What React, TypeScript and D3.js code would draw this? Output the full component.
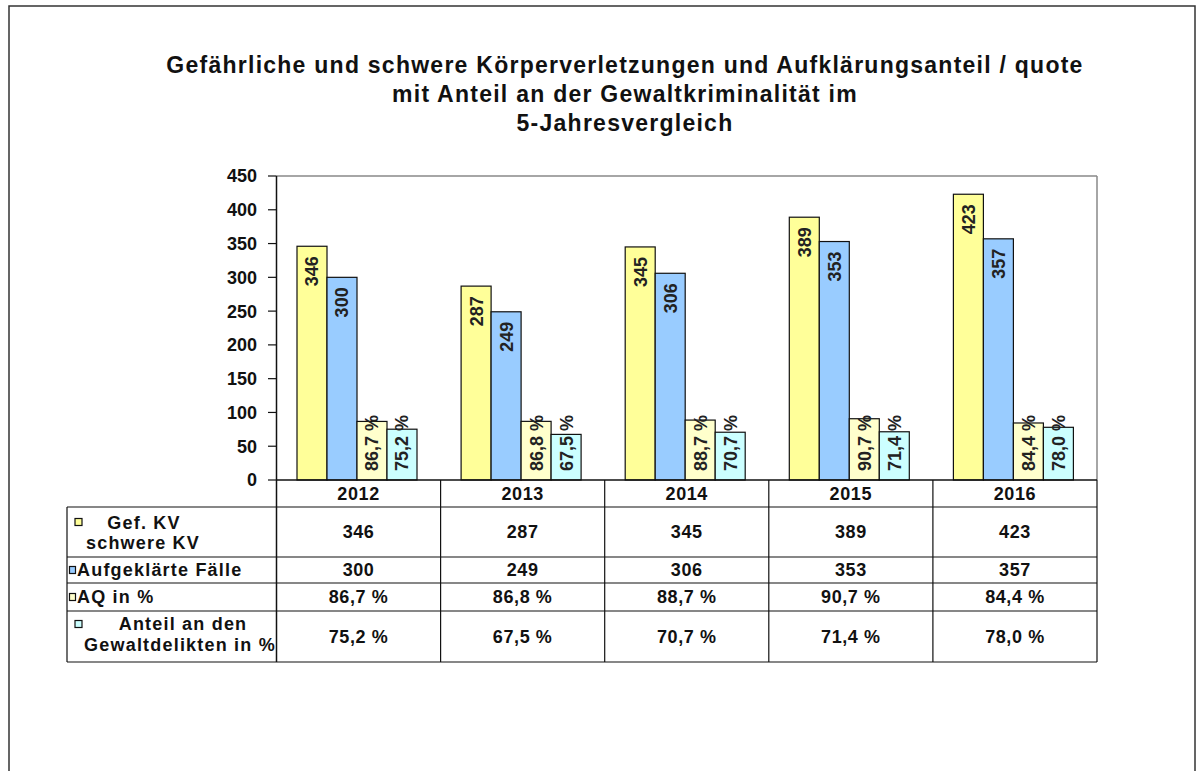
import * as d3 from 'd3';

const years = ['2012', '2013', '2014', '2015', '2016'];
const gefKV = [346, 287, 345, 389, 423];
const aufgeklaert = [300, 249, 306, 353, 357];
const aqProzent = [86.7, 86.8, 88.7, 90.7, 84.4];
const anteilGewalt = [75.2, 67.5, 70.7, 71.4, 78.0];
const yTicks = [0, 50, 100, 150, 200, 250, 300, 350, 400, 450];

const titleLines = [
  'Gefährliche und schwere Körperverletzungen und Aufklärungsanteil / quote',
  'mit Anteil an der Gewaltkriminalität im',
  '5-Jahresvergleich',
];

const series = [
  { key: 'gef', values: gefKV, color: '#FFFF99', pct: false },
  { key: 'aufg', values: aufgeklaert, color: '#99CCFF', pct: false },
  { key: 'aq', values: aqProzent, color: '#FFFFCC', pct: true },
  { key: 'anteil', values: anteilGewalt, color: '#CCFFFF', pct: true },
];

const FONT = '"Liberation Sans", Arial, sans-serif';

const fmt = (v, pct) => (pct ? v.toFixed(1).replace('.', ',') + ' %' : String(v));

const App = () => {
  const left = 276.5;
  const right = 1097;
  const top = 176;
  const bottom = 480;

  const x = d3.scaleBand().domain(years).range([left, right]).padding(0);
  const inner = d3
    .scaleBand()
    .domain(series.map((s) => s.key))
    .range([20.5, 20.5 + 120])
    .padding(0);
  const y = d3.scaleLinear().domain([0, 450]).range([bottom, top]);

  // table rows
  const rowLines = [507, 557, 583, 611, 662];
  const rows = [
    { y0: 507, y1: 557, s: series[0] },
    { y0: 557, y1: 583, s: series[1] },
    { y0: 583, y1: 611, s: series[2] },
    { y0: 611, y1: 662, s: series[3] },
  ];

  return (
    <div style={{ position: 'absolute', left: 0, top: 0 }}>
      <svg width={1201} height={771} style={{ display: 'block', background: '#fff' }} fontFamily={FONT}>
        <rect x={9} y={6} width={1186} height={800} fill="#fff" stroke="#333" strokeWidth={1.5} />

        {titleLines.map((t, i) => (
          <text
            key={i}
            x={625}
            y={73 + i * 29}
            textAnchor="middle"
            fontSize={23}
            fontWeight="bold"
            letterSpacing={1.25}
            fill="#111"
          >
            {t}
          </text>
        ))}

        {/* plot area border */}
        <line x1={left} x2={right} y1={top} y2={top} stroke="#888" strokeWidth={1.5} />
        <line x1={right} x2={right} y1={top} y2={bottom} stroke="#888" strokeWidth={1.5} />

        {/* bars */}
        {series.map((s) =>
          years.map((yr, i) => {
            const v = s.values[i];
            const bx = x(yr) + inner(s.key);
            const bw = inner.bandwidth();
            const by = y(v);
            const bh = bottom - by;
            const label = fmt(v, s.pct);
            const estLen = label.length * 0.56 * 18;
            const fits = estLen + 12 < bh;
            const cx = bx + bw / 2;
            const ty = fits ? by + 10 : bottom - 9;
            return (
              <g key={s.key + yr}>
                <rect x={bx} y={by} width={bw} height={bh} fill={s.color} stroke="#111" strokeWidth={1.2} />
                <text
                  transform={`translate(${cx},${ty}) rotate(-90)`}
                  textAnchor={fits ? 'end' : 'start'}
                  dy="0.36em"
                  fontSize={18}
                  fontWeight="bold"
                  fill="#222"
                >
                  {label}
                </text>
              </g>
            );
          })
        )}

        {/* y axis */}
        <line x1={left} x2={left} y1={top} y2={662} stroke="#111" strokeWidth={1.5} />
        {yTicks.map((t) => (
          <g key={t}>
            <line x1={268} x2={left} y1={y(t)} y2={y(t)} stroke="#111" strokeWidth={1.2} />
            <text x={257} y={y(t)} dy="0.36em" textAnchor="end" fontSize={18} fontWeight="bold" fill="#111">
              {t}
            </text>
          </g>
        ))}

        {/* table */}
        <line x1={left} x2={right} y1={bottom} y2={bottom} stroke="#111" strokeWidth={1.5} />
        {rowLines.map((ry) => (
          <line key={ry} x1={67} x2={right} y1={ry} y2={ry} stroke="#111" strokeWidth={1.2} />
        ))}
        <line x1={67} x2={67} y1={507} y2={662} stroke="#111" strokeWidth={1.2} />
        {years.map((yr) => (
          <line key={yr} x1={x(yr) + x.bandwidth()} x2={x(yr) + x.bandwidth()} y1={bottom} y2={662} stroke="#111" strokeWidth={1.2} />
        ))}
        {years.map((yr) => (
          <text key={yr} x={x(yr) + x.bandwidth() / 2} y={500} textAnchor="middle" fontSize={18} fontWeight="bold" letterSpacing={0.6} fill="#111">
            {yr}
          </text>
        ))}
        {rows.map((r) =>
          years.map((yr, i) => (
            <text
              key={r.s.key + yr}
              x={x(yr) + x.bandwidth() / 2}
              y={(r.y0 + r.y1) / 2}
              dy="0.36em"
              textAnchor="middle"
              fontSize={18}
              fontWeight="bold"
              letterSpacing={0.6}
              fill="#111"
            >
              {fmt(r.s.values[i], r.s.pct)}
            </text>
          ))
        )}

        {/* legend keys and row labels */}
        <g fontSize={18} fontWeight="bold" fill="#111" letterSpacing={1.2}>
          <rect x={75} y={518.5} width={7} height={7} fill={series[0].color} stroke="#111" strokeWidth={1.2} />
          <text x={144} y={529} textAnchor="middle">Gef. KV</text>
          <text x={143} y={549} textAnchor="middle">schwere KV</text>

          <rect x={69.5} y={566.5} width={6} height={7} fill={series[1].color} stroke="#111" strokeWidth={1.2} />
          <text x={77} y={570} dy="0.36em">Aufgeklärte Fälle</text>

          <rect x={69.5} y={593.5} width={6} height={7} fill={series[2].color} stroke="#111" strokeWidth={1.2} />
          <text x={77} y={597} dy="0.36em">AQ in %</text>

          <rect x={75} y={620.5} width={7} height={7} fill={series[3].color} stroke="#111" strokeWidth={1.2} />
          <text x={183} y={630} textAnchor="middle">Anteil an den</text>
          <text x={180} y={651} textAnchor="middle">Gewaltdelikten in %</text>
        </g>
      </svg>
    </div>
  );
};

export default App;
